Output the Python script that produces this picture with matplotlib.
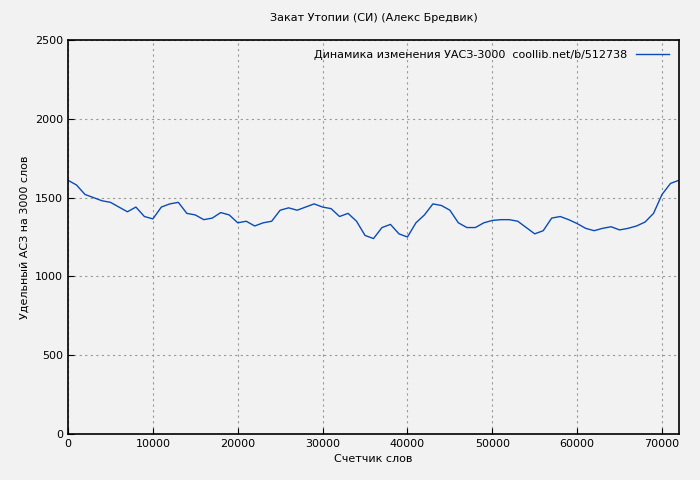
import matplotlib
matplotlib.use("Agg")
import matplotlib.pyplot as plt

words = list(range(0, 73000, 1000))
vals = [1610, 1580, 1520, 1500, 1480, 1470, 1440, 1410, 1440, 1380,
        1365, 1440, 1460, 1470, 1400, 1390, 1360, 1370, 1405, 1390,
        1340, 1350, 1320, 1340, 1350, 1420, 1435, 1420, 1440, 1460,
        1440, 1430, 1380, 1400, 1350, 1260, 1240, 1310, 1330, 1270,
        1250, 1340, 1390, 1460, 1450, 1420, 1340, 1310, 1310, 1340,
        1355, 1360, 1360, 1350, 1310, 1270, 1290, 1370, 1380, 1360,
        1335, 1305, 1290, 1305, 1315, 1295, 1305, 1320, 1345, 1400,
        1520, 1590, 1610]

fig = plt.figure(figsize=(7, 4.8), dpi=100, facecolor="#f2f2f2")
ax = fig.add_axes([68/700, 46/480, 611/700, 394/480])
ax.set_facecolor("#f2f2f2")
ax.plot(words, vals, color="#0a4bb5", lw=1,
        label="Динамика изменения УАСЗ-3000  coollib.net/b/512738")
ax.set_xlim(0, 72000)
ax.set_ylim(0, 2500)
ax.set_xticks(range(0, 70001, 10000))
ax.set_yticks(range(0, 2501, 500))
ax.grid(True, color="#999999", ls=(0, (2, 3)), lw=0.8)
ax.tick_params(labelsize=8, direction="in", length=4)
for s in ax.spines.values():
    s.set_linewidth(1.2)
ax.set_title("Закат Утопии (СИ) (Алекс Бредвик)", fontsize=8, pad=14)
ax.set_xlabel("Счетчик слов", fontsize=8)
ax.set_ylabel("Удельный АСЗ на 3000 слов", fontsize=8)
leg = ax.legend(loc="upper right", fontsize=8, frameon=False, markerfirst=False,
                handlelength=3)
fig.savefig("out.png", facecolor=fig.get_facecolor())
